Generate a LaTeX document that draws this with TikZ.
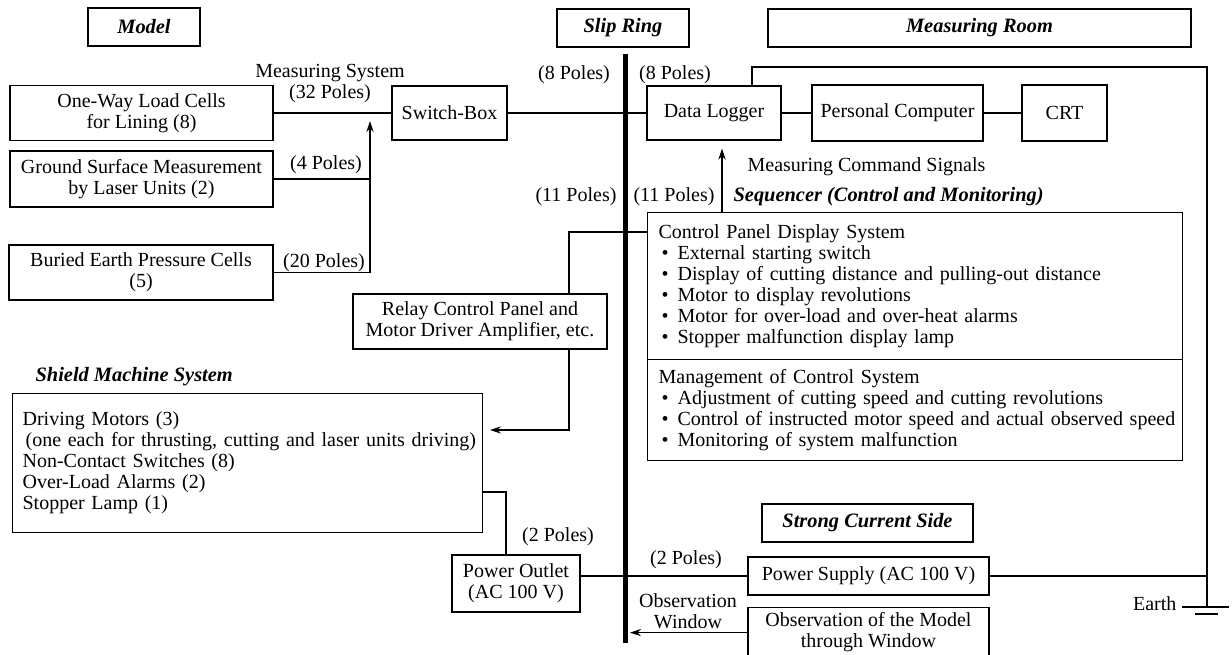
\documentclass[tikz,border=0pt]{standalone}
\usepackage{fontspec}
\setmainfont{Liberation Serif}
\usetikzlibrary{arrows,arrows.meta,positioning,calc}

\newcommand{\itm}[1]{\mbox{\hspace*{1.5pt}\textbullet\hspace{4.5pt}#1}}

\begin{document}
\begin{tikzpicture}[x=0.5pt, y=-0.5pt, >={Stealth[length=5.5pt,width=3.6pt]}, line width=0.6pt,
    font=\fontsize{10}{10.5}\selectfont,
    box/.style={draw, inner sep=0pt, align=center},
    title/.style={box, minimum height=19pt, font=\fontsize{10.2}{10.5}\selectfont\bfseries\itshape},
    lbl/.style={inner sep=1pt, align=center}]
    \useasboundingbox (0,0) rectangle (1232,654);

    % headings
    \node[title, minimum width=56pt]    (model)  at (144,27)    {Model};
    \node[title, minimum width=66pt]    (ring)   at (623,28)    {Slip Ring};
    \node[title, minimum width=211.5pt] (room)   at (979.5,28)  {Measuring Room};
    \node[title, minimum width=105.5pt] (strong) at (867.5,523) {Strong Current Side};

    % the slip ring
    \coordinate (ringtop) at (625.5,54);
    \coordinate (ringbot) at (625.5,643);
    \draw[line width=2.75pt] (ringtop) -- (ringbot);

    % model side
    \node[box, minimum width=131.5pt, minimum height=27.5pt] (cells)  at (141.5,113) {One-Way Load Cells\\for Lining (8)};
    \node[box, minimum width=131.5pt, minimum height=28pt]   (laser)  at (141.5,179) {Ground Surface Measurement\\by Laser Units (2)};
    \node[box, minimum width=132pt,   minimum height=27.5pt] (buried) at (141,272.5) {Buried Earth Pressure Cells\\(5)};
    \node[box, minimum width=57.5pt,  minimum height=27pt]   (switch) at (449.5,113) {Switch-Box};

    \coordinate (join) at (370,113);
    \draw (cells) -- (switch);
    \draw (laser.east) -- (laser.east -| join);
    \draw[->, shorten >=4pt] (buried.east) -| (join);

    \node[lbl] (meas) at (330,84) {Measuring System\\(32 Poles)};
    \node[lbl] (p4)   at (326,165) {(4 Poles)};
    \node[lbl] (p20)  at (324,263) {(20 Poles)};

    % measuring room
    \node[box, minimum width=67pt,   minimum height=27pt] (logger) at (714,113)    {Data Logger};
    \node[box, minimum width=85.5pt, minimum height=28pt] (pc)     at (897.5,113)  {Personal Computer};
    \node[box, minimum width=42.5pt, minimum height=28pt] (crt)    at (1064.5,113) {CRT};
    \draw (switch) -- (logger);
    \draw (logger) -- (pc);
    \draw (pc) -- (crt);

    \node[lbl] (p8l)  at (574,75)  {(8 Poles)};
    \node[lbl] (p8r)  at (675,75)  {(8 Poles)};
    \node[lbl] (p11l) at (576,197) {(11 Poles)};
    \node[lbl] (p11r) at (674,197) {(11 Poles)};

    % sequencer
    \node[lbl, anchor=west] (cmdtext) at (745,167) {Measuring Command Signals};
    \node[lbl, anchor=west, font=\fontsize{10.2}{10.5}\selectfont\bfseries\itshape] (seqtext) at (731,197)
        {Sequencer (Control and Monitoring)};
    \node[box, anchor=north west, inner xsep=5.5pt, text width=256.5pt, minimum height=73.5pt, align=left] (panel) at (647,212)
        {Control Panel Display System\\
         \itm{External starting switch}\\
         \itm{Display of cutting distance and pulling-out distance}\\
         \itm{Motor to display revolutions}\\
         \itm{Motor for over-load and over-heat alarms}\\
         \itm{Stopper malfunction display lamp}};
    \node[box, anchor=north west, inner xsep=5.5pt, text width=256.5pt, minimum height=50.5pt, align=left] (manage) at (647,359)
        {Management of Control System\\
         \itm{Adjustment of cutting speed and cutting revolutions}\\
         \itm{Control of instructed motor speed and actual observed speed}\\
         \itm{Monitoring of system malfunction}};
    \coordinate (cmd) at (722,212);
    \draw[->, shorten >=4pt] (cmd) -- (cmd |- logger.south);

    % room enclosure and earth
    \coordinate (corner) at (1207,67);
    \coordinate (earth) at (1207,607);
    \draw ([xshift=19pt]logger.north) |- (corner) -- (earth);
    \draw ([xshift=-12.5pt]earth) -- ([xshift=11pt]earth);
    \draw ([shift={(-6pt,-3.5pt)}]earth) -- ([shift={(5.5pt,-3.5pt)}]earth);
    \node[lbl, anchor=east] (earthtext) at ([xshift=-14pt,yshift=1.5pt]earth) {Earth};

    % relay panel
    \node[box, minimum width=127pt, minimum height=27.5pt] (relay) at (480,321.5)
        {Relay Control Panel and\\Motor Driver Amplifier, etc.};
    \coordinate (feed) at (569,232);
    \coordinate (drive) at (490,430);
    \draw (panel.west |- feed) -- (feed) -- (relay.north -| feed);
    \draw[->] (relay.south -| feed) |- (drive);

    % shield machine
    \node[lbl, anchor=west, font=\fontsize{10.2}{10.5}\selectfont\bfseries\itshape] (shieldtext) at (33,377)
        {Shield Machine System};
    \node[box, anchor=north west, inner xsep=5pt, text width=225pt, minimum height=69.5pt, align=left] (shield) at (12,393)
        {Driving Motors (3)\\
         \mbox{\hspace*{1.5pt}(one each for thrusting, cutting and laser units driving)}\\
         Non-Contact Switches (8)\\
         Over-Load Alarms (2)\\
         Stopper Lamp (1)};

    % power
    \node[box, minimum width=64pt,    minimum height=28.5pt] (outlet) at (516,583.5) {Power Outlet\\(AC 100 V)};
    \node[box, minimum width=120.5pt, minimum height=19pt]   (supply) at (868.5,576) {Power Supply (AC 100 V)};
    \node[box, anchor=north, minimum width=120.5pt, minimum height=25pt] (observe) at (868.5,607)
        {Observation of the Model\\through Window};
    \coordinate (tap) at (506,492);
    \draw (shield.east |- tap) -- (tap) -- ([xshift=-5pt]outlet.north);
    \draw (outlet.east |- supply) -- (supply);
    \draw (supply) -- (supply -| earth);
    \draw[->, shorten >=2.25pt] (observe.west) -- (observe.west -| ringbot);

    \node[lbl] (p2l) at (558,537) {(2 Poles)};
    \node[lbl] (p2r) at (686,560) {(2 Poles)};
    \node[lbl] (window) at (688,611) {Observation\\Window};
\end{tikzpicture}
\end{document}
